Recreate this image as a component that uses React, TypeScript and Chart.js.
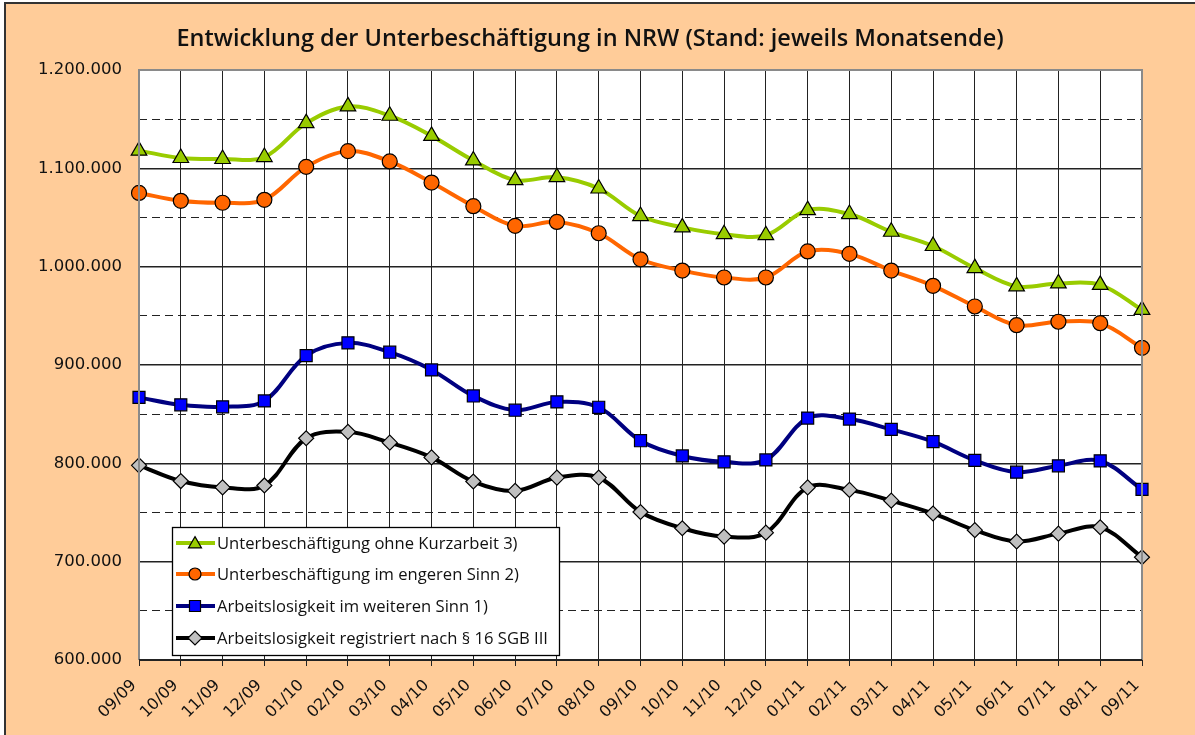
import React, { useEffect, useRef } from 'react';
import { Chart, registerables } from 'chart.js';

Chart.register(...registerables);

const TITLE = 'Entwicklung der Unterbeschäftigung in NRW (Stand: jeweils Monatsende)';

const months = [
  '09/09', '10/09', '11/09', '12/09', '01/10', '02/10', '03/10', '04/10', '05/10',
  '06/10', '07/10', '08/10', '09/10', '10/10', '11/10', '12/10', '01/11', '02/11',
  '03/11', '04/11', '05/11', '06/11', '07/11', '08/11', '09/11',
];

const ohneKurzarbeit = [
  1118000, 1110500, 1109500, 1111500, 1146000, 1163000, 1153500, 1133000, 1108000,
  1088000, 1091000, 1079500, 1051500, 1040000, 1033000, 1032000, 1057500, 1053500,
  1035500, 1021000, 998500, 980000, 983000, 981500, 956000,
];

const engererSinn = [
  1075000, 1067000, 1065000, 1068000, 1101500, 1117500, 1107000, 1085500, 1061500,
  1041500, 1045500, 1034000, 1007500, 996000, 989000, 989000, 1015500, 1013000,
  996000, 980500, 959500, 940500, 944000, 942500, 917500,
];

const weitererSinn = [
  867000, 859500, 857500, 863500, 909500, 922500, 913000, 895000, 868500,
  854000, 862500, 857000, 823000, 807500, 801500, 803500, 846000, 845000,
  834500, 822000, 803000, 791000, 797500, 802500, 773500,
];

const registriert = [
  798000, 782000, 775500, 777500, 825500, 832000, 821000, 806000, 781500,
  772000, 785500, 785500, 750500, 734000, 725500, 729500, 775500, 773000,
  762000, 749000, 732000, 720500, 728500, 735000, 704500,
];

const seriesLabels = [
  'Unterbeschäftigung ohne Kurzarbeit 3)',
  'Unterbeschäftigung im engeren Sinn 2)',
  'Arbeitslosigkeit im weiteren Sinn 1)',
  'Arbeitslosigkeit registriert nach § 16 SGB III',
];

const Y_MIN = 600000;
const Y_MAX = 1200000;
const Y_STEP = 50000;
const Y_LABEL_STEP = 100000;

const fmt = (v: number) => String(Math.round(v)).replace(/\B(?=(\d{3})+(?!\d))/g, '.');

const PEACH = '#FFCC99';

type Style = 'triangle' | 'circle' | 'rect' | 'rectRot';

function drawMarker(ctx: CanvasRenderingContext2D, style: Style, x: number, y: number, r: number, fill: string) {
  ctx.save();
  ctx.beginPath();
  if (style === 'triangle') {
    const w = r * Math.sqrt(3) / 2;
    ctx.moveTo(x, y - r * 0.85);
    ctx.lineTo(x + w, y + r * 0.65);
    ctx.lineTo(x - w, y + r * 0.65);
    ctx.closePath();
  } else if (style === 'circle') {
    ctx.arc(x, y, r, 0, Math.PI * 2);
  } else if (style === 'rect') {
    ctx.rect(x - r, y - r, 2 * r, 2 * r);
  } else {
    ctx.moveTo(x - r, y);
    ctx.lineTo(x, y - r);
    ctx.lineTo(x + r, y);
    ctx.lineTo(x, y + r);
    ctx.closePath();
  }
  ctx.fillStyle = fill;
  ctx.fill();
  ctx.lineWidth = 1.2;
  ctx.strokeStyle = '#000';
  ctx.stroke();
  ctx.restore();
}

const decorPlugin = {
  id: 'decor',
  beforeDraw(chart: any) {
    const { ctx, width, height, chartArea } = chart;
    ctx.save();
    ctx.fillStyle = '#fff';
    ctx.fillRect(0, 0, width, height);
    ctx.fillStyle = PEACH;
    ctx.fillRect(5, 3, width - 5, height - 3);
    ctx.strokeStyle = '#333';
    ctx.lineWidth = 2;
    ctx.beginPath();
    ctx.moveTo(5, height);
    ctx.lineTo(5, 3);
    ctx.lineTo(width, 3);
    ctx.stroke();
    ctx.fillStyle = '#fff';
    ctx.fillRect(chartArea.left, chartArea.top, chartArea.right - chartArea.left, chartArea.bottom - chartArea.top);
    ctx.restore();
  },
  afterDatasetsDraw(chart: any) {
    const { ctx, chartArea } = chart;
    ctx.save();
    // plot frame
    ctx.strokeStyle = '#8a8a8a';
    ctx.lineWidth = 2;
    ctx.beginPath();
    ctx.moveTo(chartArea.left, chartArea.bottom);
    ctx.lineTo(chartArea.left, chartArea.top);
    ctx.lineTo(chartArea.right, chartArea.top);
    ctx.lineTo(chartArea.right, chartArea.bottom);
    ctx.stroke();
    ctx.strokeStyle = '#222';
    ctx.beginPath();
    ctx.moveTo(chartArea.left, chartArea.bottom);
    ctx.lineTo(chartArea.right, chartArea.bottom);
    ctx.stroke();

    // legend
    const lx = 172, ly = 527, lw = 387, lh = 128;
    ctx.fillStyle = '#fff';
    ctx.fillRect(lx, ly, lw, lh);
    ctx.strokeStyle = '#000';
    ctx.lineWidth = 1.3;
    ctx.strokeRect(lx + 0.5, ly + 0.5, lw, lh);
    const rows = [543, 574, 606, 638];
    chart.data.datasets.forEach((ds: any, i: number) => {
      const y = rows[i];
      ctx.strokeStyle = ds.borderColor;
      ctx.lineWidth = 4;
      ctx.beginPath();
      ctx.moveTo(176, y);
      ctx.lineTo(215, y);
      ctx.stroke();
      const sizes: Record<string, number> = { triangle: 7.5, circle: 6, rect: 5.5, rectRot: 7 };
      drawMarker(ctx, ds.pointStyle, 195, y, sizes[ds.pointStyle], ds.pointBackgroundColor);
      ctx.fillStyle = '#111';
      ctx.font = '16.6px "Open Sans"';
      ctx.textBaseline = 'middle';
      ctx.textAlign = 'left';
      ctx.fillText(ds.label, 217, y + 1);
    });

    // title
    ctx.fillStyle = '#111';
    ctx.font = '600 23.5px "Open Sans"';
    ctx.textAlign = 'center';
    ctx.textBaseline = 'alphabetic';
    ctx.fillText(TITLE, 590, 46);
    ctx.restore();
  },
};

export default function App() {
  const ref = useRef<HTMLCanvasElement>(null);
  useEffect(() => {
    const canvas = ref.current;
    if (!canvas) return;
    const mk = (label: string, data: number[], line: string, fill: string, style: Style, radius: number) => ({
      label,
      data,
      borderColor: line,
      backgroundColor: fill,
      pointBackgroundColor: fill,
      pointBorderColor: '#000',
      pointBorderWidth: 1.2,
      pointStyle: style,
      pointRadius: radius,
      pointHoverRadius: radius,
      borderWidth: 4,
      tension: 0.35,
      fill: false,
    });
    const chart = new Chart(canvas, {
      type: 'line',
      data: {
        labels: months,
        datasets: [
          mk(seriesLabels[0], ohneKurzarbeit, '#99CC00', '#99CC00', 'triangle', 9),
          mk(seriesLabels[1], engererSinn, '#FF6600', '#FF6600', 'circle', 7.5),
          mk(seriesLabels[2], weitererSinn, '#000080', '#0000FF', 'rect', 8.5),
          mk(seriesLabels[3], registriert, '#000000', '#C0C0C0', 'rectRot', 7.5),
        ],
      },
      options: {
        animation: false,
        responsive: false,
        devicePixelRatio: 1,
        layout: { padding: { left: 0, right: 53, top: 70, bottom: 0 } },
        plugins: {
          legend: { display: false },
          title: { display: false },
          tooltip: { enabled: false },
        },
        scales: {
          x: {
            type: 'category',
            offset: false,
            grid: {
              offset: false,
              color: '#222',
              lineWidth: 1,
              drawTicks: true,
              tickLength: 6,
            },
            border: { display: false },
            ticks: {
              autoSkip: false,
              maxRotation: 45,
              minRotation: 45,
              padding: 10,
              labelOffset: -5,
              color: '#111',
              font: { family: 'DejaVu Sans', size: 16 },
            },
            afterFit: (s: any) => { s.height = 75; },
          },
          y: {
            min: Y_MIN,
            max: Y_MAX,
            grid: {
              drawTicks: false,
              color: '#222',
              lineWidth: (c: any) => (c.tick && c.tick.value % Y_LABEL_STEP === 0 ? 1.6 : 1),
            },
            border: {
              display: false,
              dash: (c: any) => (c.tick && c.tick.value % Y_LABEL_STEP !== 0 ? [8, 5] : []),
            },
            ticks: {
              stepSize: Y_STEP,
              padding: 17,
              color: '#111',
              font: { family: 'DejaVu Sans', size: 16.5 },
              callback: (v: any) => (Number(v) % Y_LABEL_STEP === 0 ? fmt(Number(v)) : ''),
            },
            afterFit: (s: any) => { s.width = 139; },
          },
        },
      },
      plugins: [decorPlugin],
    } as any);
    return () => chart.destroy();
  }, []);
  return (
    <div style={{ position: 'absolute', left: 0, top: 0, width: 1195, height: 735 }}>
      <canvas ref={ref} width={1195} height={735} style={{ display: 'block', width: 1195, height: 735 }} />
    </div>
  );
}
